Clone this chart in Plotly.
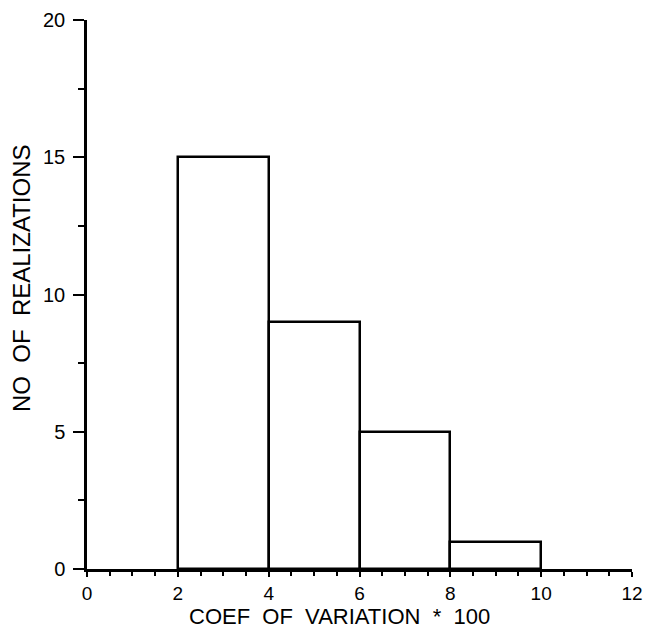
import plotly.graph_objects as go

bin_left = [2, 4, 6, 8]
bin_width = [2, 2, 2, 2]
counts = [15, 9, 5, 1]
x_ticks = [0, 2, 4, 6, 8, 10, 12]
y_ticks = [0, 5, 10, 15, 20]
x_title = "COEF  OF  VARIATION  *  100"
y_title = "NO  OF  REALIZATIONS"

centers = [l + w / 2 for l, w in zip(bin_left, bin_width)]

fig = go.Figure()
fig.add_trace(go.Bar(
    x=centers, y=counts, width=bin_width,
    marker=dict(color="white", line=dict(color="black", width=2.5)),
    showlegend=False,
))

font = "Liberation Sans, Arial, Helvetica, sans-serif"
fig.update_layout(
    width=648, height=629,
    margin=dict(l=87, r=16, t=20, b=60),
    paper_bgcolor="white", plot_bgcolor="white",
    font=dict(family=font, color="black"),
    bargap=0,
    xaxis=dict(
        range=[0, 12], tickvals=x_ticks, ticktext=[str(v) for v in x_ticks],
        automargin=False,
        showline=True, linecolor="black", linewidth=2.5,
        ticks="outside", ticklen=5, tickwidth=2, tickcolor="black",
        minor=dict(dtick=0.5, tick0=0, ticks="outside", ticklen=4, tickwidth=2, tickcolor="black"),
        showgrid=False, zeroline=False,
        tickfont=dict(size=19, family=font),
        ticklabelstandoff=0,
    ),
    yaxis=dict(
        range=[0, 20], tickvals=y_ticks, ticktext=[str(v) for v in y_ticks],
        automargin=False,
        showline=True, linecolor="black", linewidth=2.5,
        ticks="outside", ticklen=11, tickwidth=2, tickcolor="black",
        minor=dict(dtick=2.5, tick0=0, ticks="outside", ticklen=6, tickwidth=2, tickcolor="black"),
        showgrid=False, zeroline=False,
        tickfont=dict(size=20, family=font),
        ticklabelstandoff=4,
    ),
    annotations=[
        dict(text=x_title, xref="paper", yref="paper", x=0.464, y=-0.0865,
             xanchor="center", yanchor="middle", showarrow=False,
             height=18, borderpad=0,
             font=dict(size=22, family=font)),
        dict(text=y_title, xref="paper", yref="paper", x=-0.121, y=0.530,
             xanchor="center", yanchor="middle", showarrow=False, textangle=-90,
             font=dict(size=24, family=font)),
    ],
)

fig.write_html("out.html")
